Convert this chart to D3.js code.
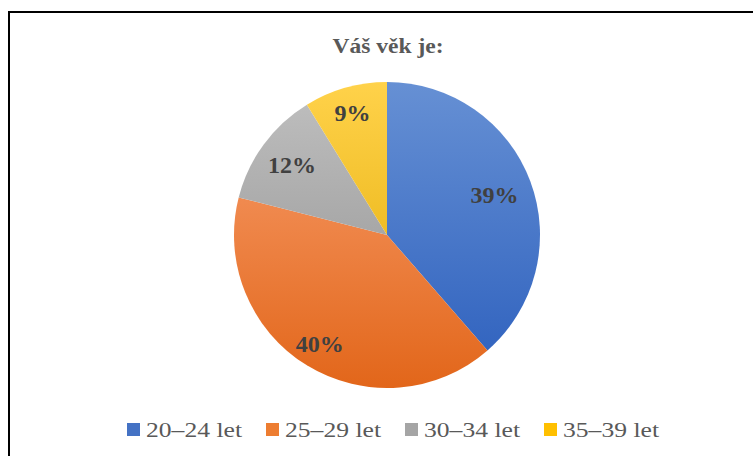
<!DOCTYPE html>
<html>
<head>
<meta charset="utf-8">
<script src="https://cdn.jsdelivr.net/npm/d3@7"></script>
<style>
  body { margin: 0; background: #fff; }
  svg { display: block; }
</style>
</head>
<body>
<div id="chart"></div>
<script>
// data (counts, shown as %)
var categories = ["20–24 let", "25–29 let", "30–34 let", "35–39 let"];
var counts = [22, 23, 7, 5];
var title = "Váš věk je:";

// styles
var lightColors = ["#6690d4", "#f9a070", "#c0c0c0", "#ffd24a"];
var darkColors  = ["#2c5fbd", "#e2661a", "#8e8e8e", "#e0a800"];
var legendColors = ["#4472c4", "#ed7d31", "#a5a5a5", "#ffc000"];
var labelR = [0.75, 0.84, 0.77, 0.83];

var width = 753, height = 456;
var cx = 387, cy = 235, R = 153;

var svg = d3.select("#chart").append("svg")
    .attr("width", width)
    .attr("height", height);

// outer frame (runs off the right and bottom)
svg.append("rect")
    .attr("x", 9).attr("y", 12)
    .attr("width", 760).attr("height", 460)
    .attr("fill", "#fff")
    .attr("stroke", "#000")
    .attr("stroke-width", 2);

// title
svg.append("text")
    .attr("transform", "translate(388,53) scale(1.12,1)")
    .attr("text-anchor", "middle")
    .style("font-family", "'Liberation Serif', 'Times New Roman', serif")
    .style("font-weight", "bold")
    .style("font-size", "21px")
    .attr("fill", "#595959")
    .text(title);

var defs = svg.append("defs");
categories.forEach(function(c, i) {
    var g = defs.append("linearGradient")
        .attr("id", "grad" + i)
        .attr("gradientUnits", "userSpaceOnUse")
        .attr("x1", 0).attr("y1", -R)
        .attr("x2", 0).attr("y2", R);
    g.append("stop").attr("offset", "0%").attr("stop-color", lightColors[i]);
    g.append("stop").attr("offset", "100%").attr("stop-color", darkColors[i]);
});

var total = d3.sum(counts);
var pie = d3.pie().sort(null).value(function(d) { return d; });
var arc = d3.arc().innerRadius(0).outerRadius(R);
var arcs = pie(counts);

var g = svg.append("g").attr("transform", "translate(" + cx + "," + cy + ")");

g.selectAll("path.slice")
    .data(arcs)
    .enter().append("path")
    .attr("class", "slice")
    .attr("d", arc)
    .attr("fill", function(d, i) { return "url(#grad" + i + ")"; });

g.selectAll("text.lbl")
    .data(arcs)
    .enter().append("text")
    .attr("class", "lbl")
    .attr("transform", function(d, i) {
        var a = d3.arc().innerRadius(R * labelR[i]).outerRadius(R * labelR[i]);
        var p = a.centroid(d);
        return "translate(" + p[0] + "," + (p[1] + 8) + ")";
    })
    .attr("text-anchor", "middle")
    .style("font-family", "'Liberation Serif', 'Times New Roman', serif")
    .style("font-weight", "bold")
    .style("font-size", "24px")
    .attr("fill", "#404040")
    .text(function(d) { return Math.round(d.data / total * 100) + "%"; });

// legend
var itemW = 139;
var legend = svg.append("g").attr("transform", "translate(127,0)");
var items = legend.selectAll("g.item")
    .data(categories)
    .enter().append("g")
    .attr("class", "item")
    .attr("transform", function(d, i) { return "translate(" + (i * itemW) + ",0)"; });

items.append("rect")
    .attr("x", 0).attr("y", 423)
    .attr("width", 13).attr("height", 13)
    .attr("fill", function(d, i) { return legendColors[i]; });

items.append("text")
    .attr("transform", "translate(19,437) scale(1.22,1)")
    .style("font-family", "'Liberation Serif', 'Times New Roman', serif")
    .style("font-size", "21px")
    .attr("fill", "#595959")
    .text(function(d) { return d; });
</script>
</body>
</html>
